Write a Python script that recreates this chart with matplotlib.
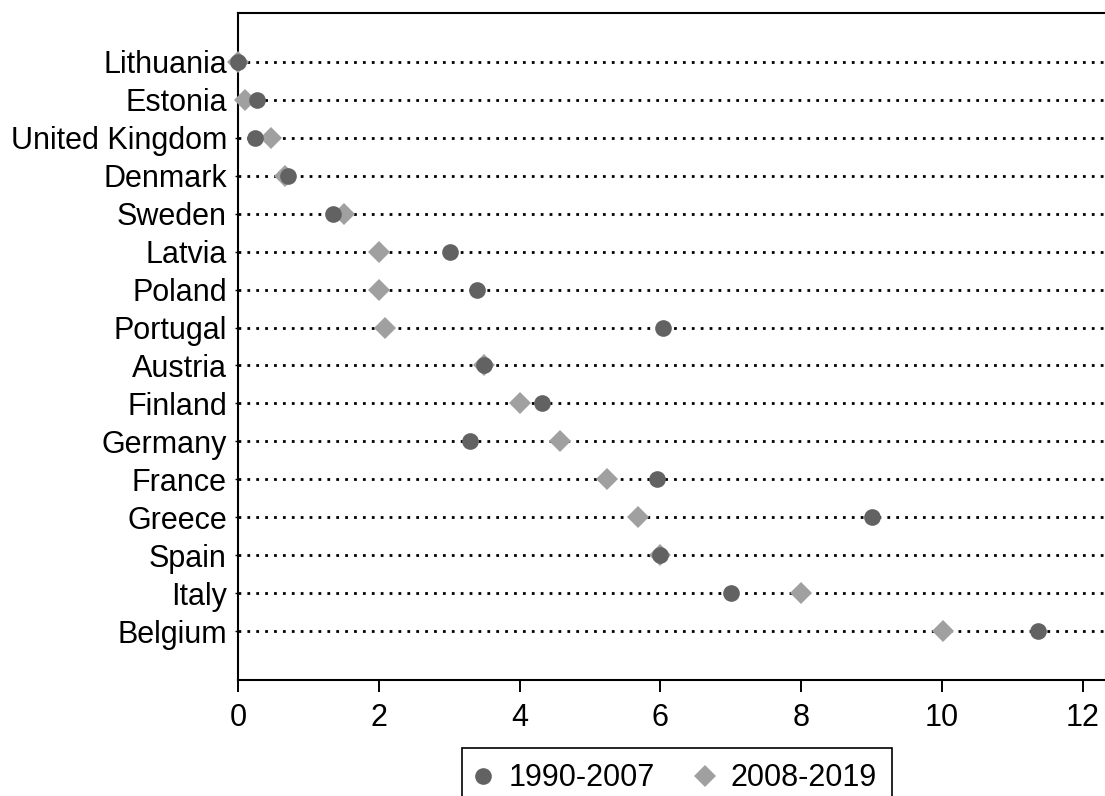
import matplotlib
matplotlib.use('Agg')
import matplotlib.pyplot as plt
import numpy as np

countries = ["Lithuania", "Estonia", "United Kingdom", "Denmark", "Sweden", "Latvia",
             "Poland", "Portugal", "Austria", "Finland", "Germany", "France",
             "Greece", "Spain", "Italy", "Belgium"]
period_1990_2007 = [0.0, 0.27, 0.24, 0.71, 1.35, 3.01, 3.39, 6.04, 3.5, 4.32,
                    3.29, 5.95, 9.0, 6.0, 7.0, 11.37]
period_2008_2019 = [0.0, 0.10, 0.47, 0.67, 1.51, 2.0, 2.0, 2.09, 3.5, 4.01,
                    4.58, 5.24, 5.68, 6.0, 8.0, 10.02]
series_labels = ["1990-2007", "2008-2019"]
xticks = [0, 2, 4, 6, 8, 10, 12]

plt.rcParams['font.family'] = ['Liberation Sans', 'DejaVu Sans']

W, H = 1105, 796
fig = plt.figure(figsize=(W / 100, H / 100), dpi=100)
left_px, right_px, top_px, bottom_px = 238, 1125, 13, 680
ax = fig.add_axes([left_px / W, 1 - bottom_px / H, (right_px - left_px) / W,
                   (bottom_px - top_px) / H])

y = np.arange(len(countries))
xmax = 12.6
ax.hlines(y, 0, xmax, colors='black', linestyles=(0, (1, 2.2)), linewidth=2.0, zorder=1)

ax.plot(period_2008_2019, y, linestyle='none', marker='D', markersize=11.2,
        color='#a0a0a0', markeredgewidth=0, label=series_labels[1], zorder=3, clip_on=False)
ax.plot(period_1990_2007, y, linestyle='none', marker='o', markersize=12,
        color='#626262', markeredgewidth=0, label=series_labels[0], zorder=4, clip_on=False)

ax.set_xlim(0, xmax)
ax.set_ylim(len(countries) - 1 + 1.29, -1.29)
ax.set_yticks(y)
ax.set_yticklabels(countries, fontsize=22)
ax.set_xticks(xticks)
ax.set_xticklabels([str(t) for t in xticks], fontsize=22)
ax.tick_params(axis='x', length=8.5, width=1.4, pad=8, colors='black')
ax.tick_params(axis='y', length=2, width=1.0, pad=6)
for s in ax.spines.values():
    s.set_linewidth(1.5)
    s.set_color('black')

h, l = ax.get_legend_handles_labels()
order = [1, 0]
leg = fig.legend([h[i] for i in order], [l[i] for i in order], ncol=2,
                 loc='upper left', bbox_to_anchor=(462 / W, 1 - 748 / H),
                 bbox_transform=fig.transFigure, fontsize=22, frameon=True,
                 fancybox=False, framealpha=1, edgecolor='black',
                 borderpad=0.5, handlelength=0.4, handletextpad=0.62,
                 columnspacing=1.45, borderaxespad=0)
leg.get_frame().set_linewidth(1.2)

fig.savefig('out.png', dpi=100)
